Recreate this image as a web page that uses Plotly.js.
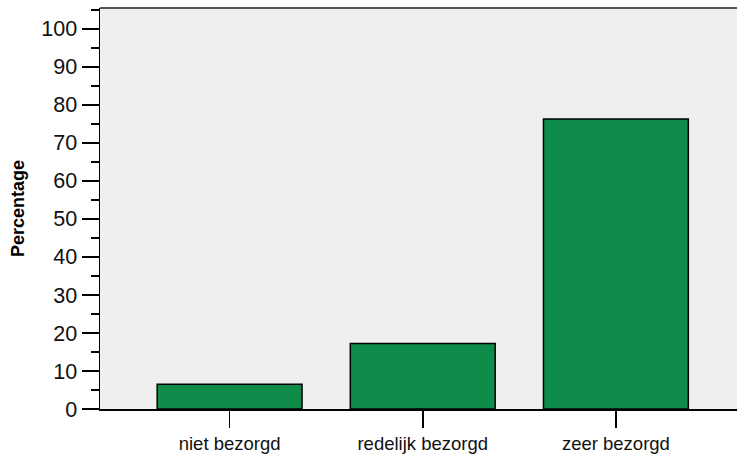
<!DOCTYPE html>
<html>
<head>
<meta charset="utf-8">
<script src="https://cdn.plot.ly/plotly-3.0.1.min.js"></script>
<style>html,body{margin:0;padding:0;background:#fff}#chart{width:737px;height:460px}</style>
</head>
<body>
<div id="chart"></div>
<script>
var categories = ["niet bezorgd", "redelijk bezorgd", "zeer bezorgd"];
var percentages = [6.5, 17.2, 76.3];
var yTickValues = [0, 10, 20, 30, 40, 50, 60, 70, 80, 90, 100];
var yTitle = "Percentage";

var trace = {
  type: "bar",
  x: categories,
  y: percentages,
  width: 0.75,
  marker: {color: "#108c4a", line: {color: "#000000", width: 1.5}},
  hoverinfo: "x+y"
};

var layout = {
  width: 737,
  height: 460,
  margin: {l: 100, r: 0, t: 8, b: 51, pad: 0},
  paper_bgcolor: "#ffffff",
  plot_bgcolor: "#efefef",
  showlegend: false,
  font: {family: "Arial, 'Liberation Sans', sans-serif", color: "#000"},
  xaxis: {
    type: "category",
    range: [-0.671, 2.627],
    showgrid: false,
    zeroline: false,
    showline: true,
    linecolor: "#000",
    linewidth: 1.5,
    ticks: "outside",
    ticklen: 17,
    tickwidth: 1.5,
    tickcolor: "#000",
    tickfont: {size: 18.5, color: "#111"},
    fixedrange: true
  },
  yaxis: {
    range: [0, 105.5],
    tickvals: yTickValues,
    showgrid: false,
    zeroline: false,
    showline: true,
    linecolor: "#000",
    linewidth: 1.5,
    ticks: "outside",
    ticklen: 17,
    tickwidth: 1.5,
    tickcolor: "#000",
    tickfont: {size: 21.5, color: "#111"},
    minor: {dtick: 5, tick0: 0, ticks: "outside", ticklen: 8, tickwidth: 1.5, tickcolor: "#000", showgrid: false},
    title: {text: yTitle, font: {size: 18, color: "#000", weight: "bold"}, standoff: 12},
    fixedrange: true
  },
  shapes: [{
    type: "line", xref: "paper", yref: "paper", x0: 0, x1: 1, y0: 1, y1: 1,
    line: {color: "#555", width: 2}
  }]
};

Plotly.newPlot("chart", [trace], layout, {displayModeBar: false, staticPlot: true});
</script>
</body>
</html>
